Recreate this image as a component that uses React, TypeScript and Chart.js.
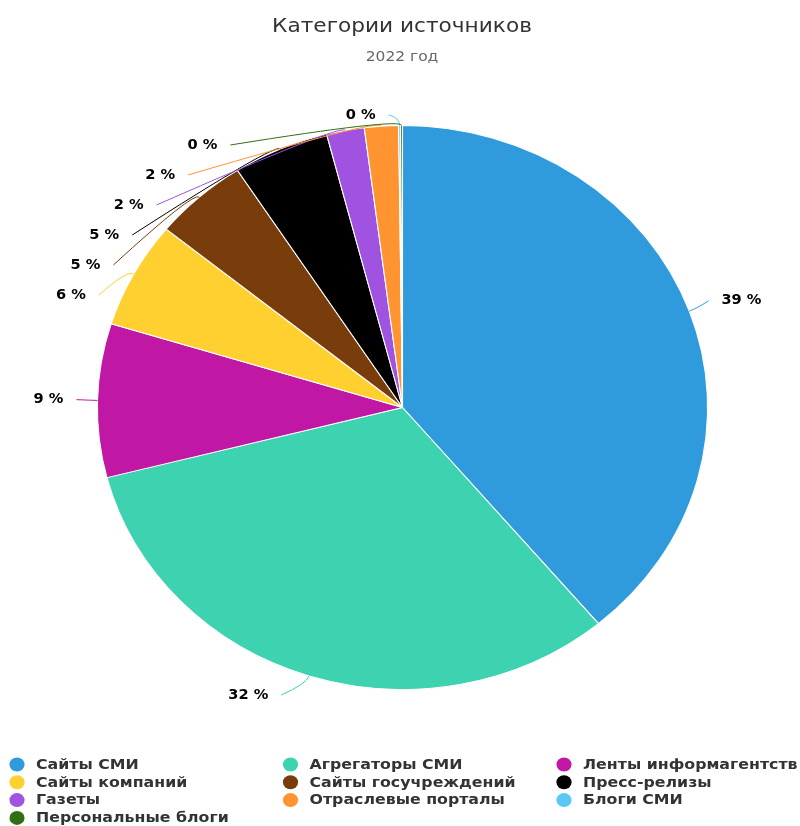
import React, { useEffect, useRef } from "react";
import { Chart, registerables } from "chart.js";

Chart.register(...registerables);

const titleText = "Категории источников";
const subtitleText = "2022 год";
const categories = [
  "Сайты СМИ",
  "Агрегаторы СМИ",
  "Ленты информагентств",
  "Сайты компаний",
  "Сайты госучреждений",
  "Пресс-релизы",
  "Газеты",
  "Отраслевые порталы",
  "Блоги СМИ",
  "Персональные блоги",
];
const shares = [38.9, 32.1, 8.8, 6.1, 5.0, 5.1, 2.0, 1.8, 0.1, 0.1];
const colors = [
  "#2f9bdc",
  "#3dd2b0",
  "#c018a5",
  "#ffd030",
  "#793d0c",
  "#000000",
  "#a052e0",
  "#ff9430",
  "#5ac8f5",
  "#326e14",
];

const STRETCH_X = 1.082;
const LABEL_DIST = 30;
const LABEL_GAP = 30;
const LABEL_MIN_Y = 115;
const LABEL_MAX_Y = 695;
const LABEL_FONT = "bold 13.5px 'DejaVu Sans'";

function drawText(
  ctx: CanvasRenderingContext2D,
  text: string,
  x: number,
  y: number,
  align: CanvasTextAlign,
  outline?: boolean
) {
  ctx.save();
  ctx.translate(x, y);
  ctx.scale(STRETCH_X, 1);
  ctx.textAlign = align;
  ctx.textBaseline = "middle";
  if (outline) {
    ctx.save();
    ctx.lineJoin = "round";
    ctx.lineWidth = 3;
    ctx.strokeStyle = "#ffffff";
    ctx.strokeText(text, 0, 0);
    ctx.restore();
  }
  ctx.fillText(text, 0, 0);
  ctx.restore();
}

const ellipsePlugin = {
  id: "ellipse",
  beforeDatasetsDraw(chart: any) {
    const arc = chart.getDatasetMeta(0).data[0];
    if (!arc) return;
    const ctx = chart.ctx;
    ctx.save();
    ctx.translate(arc.x, arc.y);
    ctx.scale(STRETCH_X, 1);
    ctx.translate(-arc.x, -arc.y);
  },
  afterDatasetsDraw(chart: any) {
    chart.ctx.restore();
  },
};

const textPlugin = {
  id: "texts",
  afterDraw(chart: any) {
    const ctx = chart.ctx;
    const W = chart.width;
    ctx.save();
    // title + subtitle
    ctx.fillStyle = "#333333";
    ctx.font = "20px 'DejaVu Sans'";
    drawText(ctx, titleText, W / 2 + 2, 27, "center");
    ctx.fillStyle = "#666666";
    ctx.font = "14.3px 'DejaVu Sans'";
    drawText(ctx, subtitleText, W / 2 + 2, 57, "center");

    // data labels
    const arcs = chart.getDatasetMeta(0).data;
    const cx = arcs[0].x;
    const cy = arcs[0].y;
    const ry = arcs[0].outerRadius;
    const rx = ry * STRETCH_X;
    const Ry = ry + LABEL_DIST;
    const Rx = rx + LABEL_DIST;
    const items = arcs.map((a: any, i: number) => {
      const mid = (a.startAngle + a.endAngle) / 2;
      return {
        i,
        mid,
        left: Math.cos(mid) < 0,
        ex: cx + rx * Math.cos(mid),
        ey: cy + ry * Math.sin(mid),
        bx: cx + (rx + 8) * Math.cos(mid),
        by: cy + (ry + 8) * Math.sin(mid),
        y: cy + Ry * Math.sin(mid),
        x: 0,
      };
    });
    const place = (list: any[]) => {
      list.sort((a, b) => (Math.abs(a.y - b.y) < 0.05 ? a.i - b.i : a.y - b.y));
      let prev = -Infinity;
      for (const it of list) {
        it.y = Math.max(it.y, prev + LABEL_GAP, LABEL_MIN_Y);
        prev = it.y;
      }
      let next = Infinity;
      for (let k = list.length - 1; k >= 0; k--) {
        const it = list[k];
        it.y = Math.min(it.y, next - LABEL_GAP, LABEL_MAX_Y);
        next = it.y;
      }
    };
    const leftItems = items.filter((it: any) => it.left);
    const rightItems = items.filter((it: any) => !it.left);
    place(leftItems);
    place(rightItems);
    for (const it of items) {
      const t = Math.min(1, Math.abs(it.y - cy) / Ry);
      const dx = Rx * Math.sqrt(1 - t * t);
      if (it.y < cy - ry) {
        it.x = it.ex + (it.left ? -20 : 20);
      } else {
        it.x = cx + (it.left ? -dx : dx);
      }
    }
    ctx.lineWidth = 1;
    for (const it of items) {
      ctx.strokeStyle = colors[it.i];
      ctx.beginPath();
      const sx = it.x + (it.left ? 9 : -9);
      ctx.moveTo(sx, it.y);
      ctx.quadraticCurveTo(it.bx, it.by, it.ex, it.ey);
      ctx.stroke();
    }
    ctx.font = LABEL_FONT;
    ctx.fillStyle = "#000000";
    for (const it of items) {
      const txt = Math.round(shares[it.i]) + " %";
      const tx = it.x + (it.left ? -4 : 4);
      drawText(ctx, txt, tx, it.y, it.left ? "right" : "left", true);
    }

    // legend
    ctx.font = "bold 14.6px 'DejaVu Sans'";
    categories.forEach((name, i) => {
      const col = i % 3;
      const row = Math.floor(i / 3);
      const tx = 36 + col * 273.5;
      const my = 764.5 + row * 17.8;
      ctx.fillStyle = colors[i];
      ctx.beginPath();
      ctx.ellipse(tx - 19, my, 7 * STRETCH_X, 7, 0, 0, Math.PI * 2);
      ctx.fill();
      ctx.fillStyle = "#333333";
      drawText(ctx, name, tx, my + 0.5, "left");
    });
    ctx.restore();
  },
};

export default function App() {
  const ref = useRef<HTMLCanvasElement | null>(null);
  useEffect(() => {
    document.body.style.margin = "0";
    const canvas = ref.current;
    if (!canvas) return;
    const chart = new Chart(canvas, {
      type: "pie",
      data: {
        labels: categories,
        datasets: [
          {
            data: shares,
            backgroundColor: colors,
            borderColor: "#ffffff",
            borderWidth: 1,
          },
        ],
      },
      options: {
        responsive: false,
        animation: false,
        devicePixelRatio: 1,
        layout: { padding: { top: 125, bottom: 136, left: 120, right: 115 } },
        plugins: {
          legend: { display: false },
          title: { display: false },
          tooltip: { enabled: false },
        },
      },
      plugins: [ellipsePlugin, textPlugin],
    });
    return () => chart.destroy();
  }, []);
  return (
    <div style={{ width: 800, height: 826, background: "#ffffff" }}>
      <canvas ref={ref} width={800} height={826} />
    </div>
  );
}
